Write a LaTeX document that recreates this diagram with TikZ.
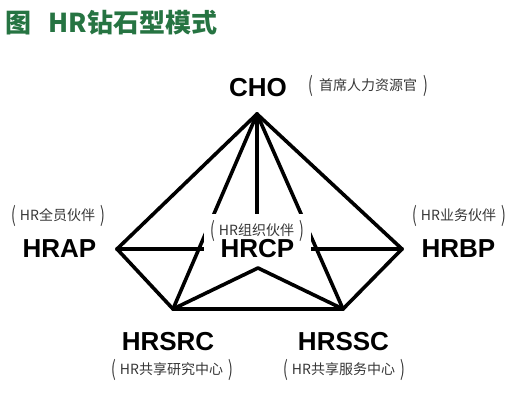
\documentclass[tikz,border=0pt]{standalone}
\usepackage{fontspec}
\usepackage{graphicx}
\setmainfont{Liberation Sans}
\newfontfamily\cjk{Noto Sans CJK SC}
\usetikzlibrary{
    backgrounds,
    fit
}
\definecolor{titlegreen}{RGB}{38,116,66}
\definecolor{notegray}{RGB}{55,55,55}
\newcommand{\notelp}{\raisebox{-0.17em}{\scalebox{1}[1.5]{(}}}
\newcommand{\noterp}{\raisebox{-0.17em}{\scalebox{1}[1.5]{)}}}
\tikzset{
  every path/.style={
    black,
    line width=3.6pt,
    line cap=round
  },
  role/.style={
    font=\fontsize{26}{26}\selectfont\bfseries,
    inner sep=0pt
  },
  note/.style={
    font=\cjk\fontsize{14}{14}\selectfont,
    text=notegray,
    inner sep=1pt
  }
}

\begin{document}
\begin{tikzpicture}[x=1pt,y=-1pt]
    \useasboundingbox (0,0) rectangle (513,409);
    %-------------------------
    %title
    %-------------------------
    \node[anchor=west,inner sep=0pt,text=titlegreen,
          font=\cjk\fontsize{26}{26}\selectfont\bfseries] (title) at (4,23) {图\hspace{17pt}HR钻石型模式};

    %-------------------------
    %diamond corners
    %-------------------------
    \coordinate (top) at (257,114);
    \coordinate (left) at (117,249);
    \coordinate (right) at (402,249);
    \coordinate (lowl) at (173,309);
    \coordinate (lowr) at (343,309);
    \coordinate (notch) at (258,268);

    %-------------------------
    %roles
    %-------------------------
    \node[role] (cho) at (258,88) {CHO};
    \node[note] (chonote) at (368,86) {\notelp\hspace{6pt}首席人力资源官\hspace{6pt}\noterp};
    \node[role] (hrap) at (59.5,249) {HRAP};
    \node[note] (hrapnote) at (58,216) {\notelp\hspace{4pt}HR全员伙伴\hspace{5pt}\noterp};
    \node[role,minimum width=104pt] (hrcp) at (257.5,249) {HRCP};
    \node[note] (hrcpnote) at (257,231) {\notelp\hspace{4pt}HR组织伙伴\hspace{5pt}\noterp};
    \node[role] (hrbp) at (458.5,249) {HRBP};
    \node[note] (hrbpnote) at (459,216) {\notelp\hspace{4pt}HR业务伙伴\hspace{5pt}\noterp};
    \node[role] (hrsrc) at (168,342) {HRSRC};
    \node[note] (hrsrcnote) at (172,370) {\notelp\hspace{4pt}HR共享研究中心\hspace{5pt}\noterp};
    \node[role] (hrssc) at (343.5,342) {HRSSC};
    \node[note] (hrsscnote) at (344,370) {\notelp\hspace{4pt}HR共享服务中心\hspace{5pt}\noterp};

    %-------------------------
    %edges
    %-------------------------
    \begin{scope}[on background layer]
    \draw (top) -- (left);
    \draw (top) -- (right);
    \draw (left) -- (lowl);
    \draw (right) -- (lowr);
    \draw (lowl) -- (lowr);
    \draw (left) -- (right);
    \draw (top) -- (lowl);
    \draw (top) -- (lowr);
    \draw (top) -- (hrcpnote);
    \draw (lowl) -- (notch);
    \draw (notch) -- (lowr);
    %white patch behind the HRCP texts
    \node[fit=(hrcp)(hrcpnote),fill=white,inner xsep=0pt,inner ysep=3.5pt] (hrcpbox) {};
    \end{scope}

\end{tikzpicture}
\end{document}
